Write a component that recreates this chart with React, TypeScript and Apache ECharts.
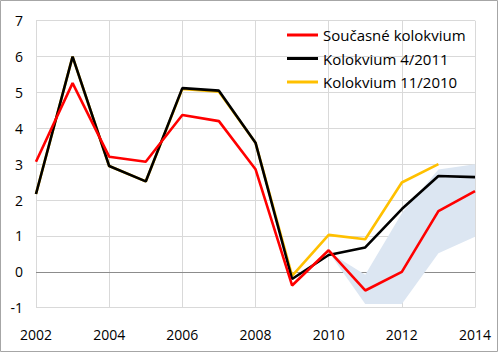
import React, { useEffect, useRef } from "react";
import * as echarts from "echarts";

const years = [2002, 2003, 2004, 2005, 2006, 2007, 2008, 2009, 2010, 2011, 2012, 2013, 2014];
const currentColloquium = [3.07, 5.26, 3.21, 3.07, 4.37, 4.2, 2.86, -0.38, 0.6, -0.52, 0.0, 1.69, 2.25];
const colloquium042011 = [2.17, 6.0, 2.95, 2.52, 5.12, 5.05, 3.6, -0.2, 0.47, 0.68, 1.75, 2.67, 2.64];
const colloquium112010 = [2.17, 6.0, 2.95, 2.52, 5.1, 5.02, 3.6, -0.11, 1.03, 0.91, 2.49, 3.0, null];
const bandYears = [2010, 2011, 2012, 2013, 2014];
const bandLower = [0.55, -0.9, -0.9, 0.52, 0.98];
const bandUpper = [0.55, -0.08, 1.63, 2.85, 3.0];

const seriesNames = ["Současné kolokvium", "Kolokvium 4/2011", "Kolokvium 11/2010"];

const pairs = (xs: number[], ys: (number | null)[]) =>
  xs.map((x, i) => [x, ys[i]]).filter((p) => p[1] !== null);

export default function App() {
  const ref = useRef<HTMLDivElement>(null);
  useEffect(() => {
    if (!ref.current) return;
    const chart = echarts.init(ref.current, undefined, { renderer: "svg" });
    const font = "Open Sans";
    chart.setOption({
      animation: false,
      backgroundColor: "#ffffff",
      textStyle: { fontFamily: font },
      grid: { left: 36, right: 25, top: 20.7, bottom: 45.3 },
      graphic: [
        {
          type: "rect",
          shape: { x: 0.5, y: 0.5, width: 497, height: 351 },
          style: { fill: "none", stroke: "#a6a6a6", lineWidth: 1 },
          silent: true,
          z: 100,
        },
      ],
      legend: {
        data: seriesNames,
        orient: "vertical",
        left: 287,
        top: 27,
        padding: 0,
        itemGap: 7.5,
        itemWidth: 31,
        itemHeight: 3,
        icon: "rect",
        textStyle: { fontFamily: font, fontSize: 15, lineHeight: 16, color: "#000" },
      },
      xAxis: {
        type: "value",
        min: 2002,
        max: 2014,
        interval: 2,
        axisLine: { show: false },
        axisTick: { show: false },
        axisLabel: {
          fontFamily: font,
          fontSize: 14,
          color: "#000",
          margin: 20,
          formatter: (v: number) => String(v),
        },
        splitLine: { show: true, lineStyle: { color: "#d9d9d9", width: 1 } },
      },
      yAxis: {
        type: "value",
        min: -1,
        max: 7,
        interval: 1,
        axisLine: { show: false },
        axisTick: { show: false },
        axisLabel: { fontFamily: font, fontSize: 14, color: "#000", margin: 13 },
        splitLine: { show: true, lineStyle: { color: "#d9d9d9", width: 1 } },
      },
      series: [
        {
          name: "band",
          type: "custom",
          silent: true,
          z: 1,
          data: [0],
          renderItem: (_params: any, api: any) => {
            const pts: number[][] = [];
            bandYears.forEach((y, i) => pts.push(api.coord([y, bandUpper[i]])));
            for (let i = bandYears.length - 1; i >= 0; i--) {
              pts.push(api.coord([bandYears[i], bandLower[i]]));
            }
            return {
              type: "polygon",
              shape: { points: pts },
              style: { fill: "#dce6f2", stroke: "none" },
            };
          },
        },
        {
          name: seriesNames[2],
          type: "line",
          data: pairs(years, colloquium112010),
          symbol: "none",
          color: "#ffc000",
          lineStyle: { color: "#ffc000", width: 2.6 },
          z: 2,
        },
        {
          name: seriesNames[1],
          type: "line",
          data: pairs(years, colloquium042011),
          symbol: "none",
          color: "#000000",
          lineStyle: { color: "#000000", width: 2.6 },
          z: 3,
        },
        {
          name: seriesNames[0],
          type: "line",
          data: pairs(years, currentColloquium),
          symbol: "none",
          color: "#ff0000",
          lineStyle: { color: "#ff0000", width: 2.6 },
          z: 4,
          markLine: {
            silent: true,
            symbol: "none",
            label: { show: false },
            lineStyle: { color: "#8c8c8c", width: 1, type: "solid" },
            data: [{ yAxis: 0 }],
            z: 1,
          },
        },
      ],
    });
    return () => chart.dispose();
  }, []);
  return (
    <div
      ref={ref}
      style={{ position: "fixed", left: 0, top: 0, width: 500, height: 353 }}
    />
  );
}
